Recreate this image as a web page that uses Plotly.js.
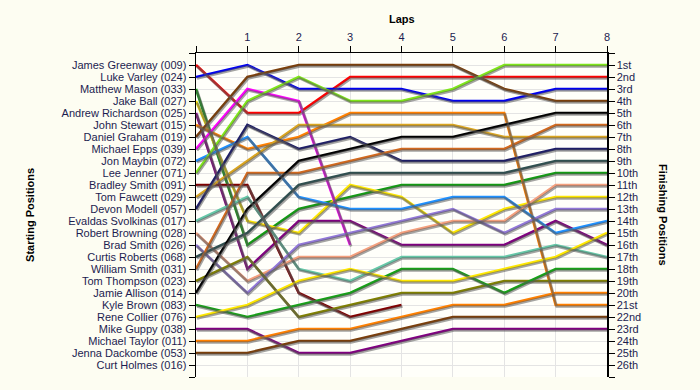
<!DOCTYPE html>
<html>
<head>
<meta charset="utf-8">
<script src="https://cdn.plot.ly/plotly-3.0.1.min.js"></script>
<style>
  html, body { margin: 0; padding: 0; background: #FDFDF2; }
  #chart { width: 700px; height: 390px; }
</style>
</head>
<body>
<div id="chart"></div>
<script>
// ---------------- data ----------------
const laps = [0, 1, 2, 3, 4, 5, 6, 7, 8];
const lapLabels = ['', '1', '2', '3', '4', '5', '6', '7', '8'];

const drivers = [
  'James Greenway (009)', 'Luke Varley (024)', 'Matthew Mason (033)', 'Jake Ball (027)',
  'Andrew Richardson (025)', 'John Stewart (015)', 'Daniel Graham (019)', 'Michael Epps (039)',
  'Jon Maybin (072)', 'Lee Jenner (071)', 'Bradley Smith (091)', 'Tom Fawcett (029)',
  'Devon Modell (057)', 'Evaldas Svolkinas (017)', 'Robert Browning (028)', 'Brad Smith (026)',
  'Curtis Roberts (068)', 'William Smith (031)', 'Tom Thompson (023)', 'Jamie Allison (014)',
  'Kyle Brown (083)', 'Rene Collier (076)', 'Mike Guppy (038)', 'Michael Taylor (011)',
  'Jenna Dackombe (053)', 'Curt Holmes (016)'
];

const finishLabels = [
  '1st', '2nd', '3rd', '4th', '5th', '6th', '7th', '8th', '9th', '10th', '11th', '12th', '13th',
  '14th', '15th', '16th', '17th', '18th', '19th', '20th', '21st', '22nd', '23rd', '24th', '25th', '26th'
];

// position of each driver at laps 0..8 (null = retired / not running)
const posGreenway   = [1, 5, 5, 2, 2, 2, 2, 2, 2];
const posVarley     = [2, 1, 3, 3, 3, 4, 4, 3, 3];
const posMason      = [3, 16, 13, 12, 11, 11, 11, 10, 10];
const posBall       = [4, 14, 15, 11, 12, 15, 13, 12, 12];
const posRichardson = [5, 18, 14, 14, 16, 16, 16, 14, 16];
const posStewart    = [6, 8, 7, 5, 5, 5, 5, 21, 21];
const posGraham     = [7, 2, 1, 1, 1, 1, 3, 4, 4];
const posEpps       = [8, 3, 4, 16, null, null, null, null, null];
const posMaybin     = [9, 7, 12, 13, 13, 12, 12, 15, 14];
const posJenner     = [10, 4, 2, 4, 4, 3, 1, 1, 1];
const posBSmith     = [11, 11, 20, 22, 21, null, null, null, null];
const posFawcett    = [12, 9, 6, 6, 6, 6, 7, 7, 7];
const posModell     = [13, 6, 8, 7, 9, 9, 9, 8, 8];
const posSvolkinas  = [14, 12, 18, 19, 17, 17, 17, 16, 17];
const posBrowning   = [15, 19, 17, 17, 15, 14, 14, 11, 11];
const posBradSmith  = [16, 20, 16, 15, 14, 13, 15, 13, 13];
const posRoberts    = [17, 15, 11, 10, 10, 10, 10, 9, 9];
const posWSmith     = [18, 10, 10, 9, 8, 8, 8, 6, 6];
const posThompson   = [19, 17, 22, 21, 20, 20, 19, 19, 19];
const posAllison    = [20, 13, 9, 8, 7, 7, 6, 5, 5];
const posKBrown     = [21, 22, 21, 20, 18, 18, 20, 18, 18];
const posCollier    = [22, 21, 19, 18, 19, 19, 18, 17, 15];
const posGuppy      = [23, 23, 25, 25, 24, 23, 23, 23, 23];
const posTaylor     = [24, 24, 23, 23, 22, 21, 21, 20, 20];
const posDackombe   = [25, 25, 24, 24, 23, 22, 22, 22, 22];

const positions = [
  posGreenway, posVarley, posMason, posBall, posRichardson, posStewart, posGraham, posEpps,
  posMaybin, posJenner, posBSmith, posFawcett, posModell, posSvolkinas, posBrowning, posBradSmith,
  posRoberts, posWSmith, posThompson, posAllison, posKBrown, posCollier, posGuppy, posTaylor, posDackombe
];

const colors = [
  '#FF0000', '#0000F0', '#139A13', '#FFE800', '#800080', '#FF8000', '#7A3E0A', '#FF00FF',
  '#1E90FF', '#7FE61A', '#800000', '#DAA520', '#1E1E66', '#66C8A8', '#F4A07E', '#9278D8',
  '#2F4F4F', '#D2691E', '#808000', '#000000', '#17A017', '#FFE800', '#800080', '#FF8000', '#7A3E0A'
];

// ---------------- chart ----------------
const lineW = 2.6;
const traces = [];
// shadows
positions.forEach((p, i) => {
  traces.push({
    x: laps, y: p, xaxis: 'x2', yaxis: 'y2', mode: 'lines', hoverinfo: 'skip',
    line: { color: 'rgba(90,90,90,0.55)', width: lineW }, showlegend: false
  });
});
// main lines
positions.forEach((p, i) => {
  traces.push({
    x: laps, y: p, mode: 'lines', name: drivers[i],
    line: { color: colors[i], width: lineW }, showlegend: false
  });
});

const posTicks = [];
const leftText = [];
const rightText = [];
for (let k = 0; k <= 27; k++) {
  posTicks.push(k);
  leftText.push(k >= 1 && k <= 26 ? drivers[k - 1] : '');
  rightText.push(k >= 1 && k <= 26 ? finishLabels[k - 1] : '');
}

const tickFont = { family: 'Liberation Sans, Arial, sans-serif', size: 11, color: '#1c1c50' };
const titleFont = { family: 'Liberation Sans, Arial, sans-serif', size: 11, color: '#000000' };

const layout = {
  width: 700, height: 390,
  margin: { l: 196, r: 93, t: 53, b: 13 },
  paper_bgcolor: '#FDFDF2',
  plot_bgcolor: '#FFFFFA',
  showlegend: false,
  xaxis: {
    side: 'top', range: [0, 8], tickvals: laps, ticktext: lapLabels,
    ticks: 'outside', ticklen: 6, tickcolor: '#000', tickfont: tickFont,
    showline: true, linecolor: '#000', linewidth: 1.5, mirror: false,
    showgrid: true, gridcolor: '#E4E4E4', gridwidth: 1, zeroline: false, fixedrange: true
  },
  xaxis2: {
    overlaying: 'x', range: [-0.02, 7.98], visible: false, showgrid: false, zeroline: false
  },
  yaxis: {
    range: [27, 0], tickvals: posTicks, ticktext: leftText,
    ticks: 'outside', ticklen: 6, tickcolor: '#000', tickfont: tickFont,
    showline: true, linecolor: '#000', linewidth: 1.5,
    showgrid: true, gridcolor: '#E4E4E4', gridwidth: 1, zeroline: false, fixedrange: true
  },
  yaxis2: {
    overlaying: 'y', range: [26.88, -0.12], visible: false, showgrid: false, zeroline: false
  },
  yaxis3: {
    overlaying: 'y', side: 'right', anchor: 'x', range: [27, 0], tickvals: posTicks, ticktext: rightText,
    ticks: 'outside', ticklen: 6, tickcolor: '#000', tickfont: tickFont,
    showline: true, linecolor: '#000', linewidth: 1.5,
    showgrid: false, zeroline: false, fixedrange: true
  },
  annotations: [
    { text: '<b>Laps</b>', xref: 'paper', yref: 'paper', x: 0.5, y: 1.105,
      xanchor: 'center', yanchor: 'middle', showarrow: false, font: titleFont },
    { text: '<b>Starting Positions</b>', xref: 'paper', yref: 'paper', x: -0.404, y: 0.5,
      xanchor: 'center', yanchor: 'middle', textangle: -90, showarrow: false, font: titleFont },
    { text: '<b>Finishing Positions</b>', xref: 'paper', yref: 'paper', x: 1.136, y: 0.5,
      xanchor: 'center', yanchor: 'middle', textangle: 90, showarrow: false, font: titleFont }
  ]
};

// dummy-free: bind right axis to a copy of the main lines' axis by adding an invisible trace from data
traces.push({ x: laps, y: posGreenway, yaxis: 'y3', mode: 'lines', hoverinfo: 'skip',
  line: { color: 'rgba(0,0,0,0)', width: 0 }, showlegend: false });

Plotly.newPlot('chart', traces, layout, { displayModeBar: false, staticPlot: true });
</script>
</body>
</html>
